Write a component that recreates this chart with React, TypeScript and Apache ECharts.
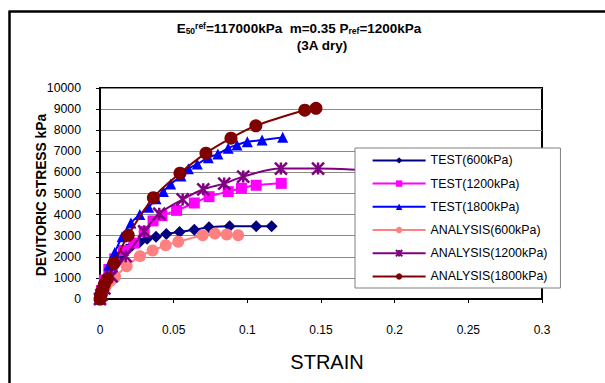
import React, { useEffect, useRef } from "react";
import * as echarts from "echarts";

const xTicks = [0, 0.05, 0.1, 0.15, 0.2, 0.25, 0.3];
const yTicks = [0, 1000, 2000, 3000, 4000, 5000, 6000, 7000, 8000, 9000, 10000];

const seriesNames = [
  "TEST(600kPa)",
  "TEST(1200kPa)",
  "TEST(1800kPa)",
  "ANALYSIS(600kPa)",
  "ANALYSIS(1200kPa)",
  "ANALYSIS(1800kPa)",
];

const test600Strain = [0, 0.001, 0.002, 0.004, 0.007, 0.01, 0.014, 0.018, 0.022, 0.027, 0.032, 0.038, 0.045, 0.054, 0.064, 0.074, 0.088, 0.106, 0.1165];
const test600Stress = [0, 300, 600, 1000, 1400, 1750, 2100, 2350, 2550, 2700, 2850, 2950, 3080, 3180, 3280, 3400, 3450, 3450, 3450];

const test1200Strain = [0, 0.001, 0.003, 0.006, 0.01, 0.016, 0.023, 0.03, 0.036, 0.042, 0.052, 0.064, 0.074, 0.087, 0.096, 0.106, 0.123];
const test1200Stress = [0, 400, 900, 1400, 1900, 2300, 2650, 3200, 3700, 3950, 4200, 4550, 4850, 5090, 5250, 5390, 5480];

const test1800Strain = [0, 0.001, 0.003, 0.006, 0.01, 0.015, 0.021, 0.027, 0.033, 0.038, 0.043, 0.048, 0.055, 0.06, 0.066, 0.0735, 0.08, 0.087, 0.093, 0.1, 0.11, 0.124];
const test1800Stress = [0, 500, 1000, 1600, 2200, 2950, 3600, 4000, 4350, 4750, 5100, 5450, 5830, 6170, 6400, 6700, 6870, 7150, 7300, 7450, 7530, 7660];

const ana600Strain = [0, 0.001, 0.002, 0.004, 0.007, 0.0102, 0.0181, 0.0271, 0.0357, 0.0446, 0.0531, 0.0697, 0.078, 0.086, 0.0938];
const ana600Stress = [0, 150, 300, 600, 850, 1050, 1550, 2030, 2300, 2550, 2710, 3020, 3100, 3060, 3020];

const ana1200Strain = [0, 0.001, 0.003, 0.0079, 0.0174, 0.03, 0.0402, 0.0561, 0.0701, 0.0843, 0.0972, 0.1228, 0.148, 0.2];
const ana1200Stress = [0, 200, 500, 1070, 2030, 3210, 4040, 4720, 5200, 5470, 5800, 6180, 6180, 6000];

const ana1800Strain = [0, 0.0005, 0.001, 0.002, 0.003, 0.005, 0.0095, 0.0192, 0.0362, 0.0543, 0.0719, 0.0889, 0.1058, 0.139, 0.1466];
const ana1800Stress = [0, 150, 300, 500, 700, 950, 1710, 3020, 4800, 5960, 6910, 7620, 8210, 8950, 9035];

const colors = ["#000080", "#FF00FF", "#0000FF", "#FF8080", "#800080", "#800000"];
const symbols = ["diamond", "rect", "triangle", "circle", "path://M0,0L10,10M10,0L0,10M5,0L5,10", "circle"];
const symbolSizes = [12, 11, 11, 12, 12, 13];

const strains = [test600Strain, test1200Strain, test1800Strain, ana600Strain, ana1200Strain, ana1800Strain];
const stresses = [test600Stress, test1200Stress, test1800Stress, ana600Stress, ana1200Stress, ana1800Stress];

const FONT = "Arial, 'Liberation Sans', sans-serif";

export default function App() {
  const ref = useRef<HTMLDivElement>(null);
  useEffect(() => {
    if (!ref.current) return;
    const chart = echarts.init(ref.current, undefined, { renderer: "svg" });
    const series = seriesNames.map((name, i) => ({
      name,
      type: "line",
      smooth: 0.35,
      data: strains[i].map((s, j) => [s, stresses[i][j]]),
      symbol: symbols[i],
      symbolSize: symbolSizes[i],
      showAllSymbol: true,
      lineStyle: { color: colors[i], width: 2 },
      itemStyle:
        i === 4
          ? { color: colors[i], borderColor: colors[i], borderWidth: 2.5 }
          : { color: colors[i] },
      z: 2 + i,
    }));
    chart.setOption({
      animation: false,
      backgroundColor: "#fff",
      textStyle: { fontFamily: FONT },
      grid: {
        left: 100,
        right: 63,
        top: 88,
        bottom: 84,
        show: true,
        borderColor: "#000",
        borderWidth: 2,
        backgroundColor: "transparent",
      },
      xAxis: {
        type: "value",
        min: xTicks[0],
        max: xTicks[xTicks.length - 1],
        interval: 0.05,
        axisLine: { show: true, lineStyle: { color: "#000", width: 2 } },
        axisTick: { show: true, length: 4, lineStyle: { color: "#000", width: 1 } },
        splitLine: { show: false },
        axisLabel: {
          color: "#000",
          fontSize: 12,
          margin: 25,
          fontFamily: FONT,
          formatter: (v: number) => String(Math.round(v * 100) / 100),
        },
      },
      yAxis: {
        type: "value",
        min: yTicks[0],
        max: yTicks[yTicks.length - 1],
        interval: 1000,
        axisLine: { show: true, lineStyle: { color: "#000", width: 2 } },
        axisTick: { show: true, length: 4, lineStyle: { color: "#000", width: 1 } },
        splitLine: { show: true, lineStyle: { color: "#8a8a8a", width: 1 } },
        axisLabel: {
          color: "#000",
          fontSize: 12.3,
          margin: 19,
          fontFamily: FONT,
          formatter: (v: number) => String(Math.round(v)),
        },
      },
      legend: {
        orient: "vertical",
        left: 355,
        top: 148,
        data: seriesNames,
        backgroundColor: "#fff",
        borderColor: "#808080",
        borderWidth: 1,
        borderRadius: 0,
        padding: [5.4, 13, 4.6, 16.6],
        itemWidth: 53,
        itemHeight: 8,
        itemGap: 9.2,
        textStyle: { color: "#000", fontSize: 12.4, lineHeight: 14, fontFamily: FONT },
        z: 10,
      },
      graphic: [
        {
          type: "line",
          shape: { x1: 9.5, y1: 11.5, x2: 9.5, y2: 383 },
          style: { stroke: "#000", lineWidth: 2.5 },
        },
        {
          type: "line",
          shape: { x1: 8.5, y1: 11.5, x2: 605, y2: 11.5 },
          style: { stroke: "#000", lineWidth: 2.5 },
        },
        {
          type: "text",
          x: 299,
          y: 28,
          style: {
            text: "{b|E}{sub|50}{sup|ref}{b|=117000kPa  m=0.35 P}{sub|ref}{b|=1200kPa}",
            textAlign: "center",
            textVerticalAlign: "middle",
            rich: {
              b: { fontSize: 13.5, fontWeight: "bold", fontFamily: FONT, lineHeight: 14, verticalAlign: "middle", fill: "#000" },
              sub: { fontSize: 8.5, fontWeight: "bold", fontFamily: FONT, lineHeight: 9, verticalAlign: "bottom", fill: "#000" },
              sup: { fontSize: 8.5, fontWeight: "bold", fontFamily: FONT, lineHeight: 9, verticalAlign: "top", fill: "#000" },
            },
          },
        },
        {
          type: "text",
          x: 322,
          y: 45,
          style: {
            text: "(3A dry)",
            textAlign: "center",
            textVerticalAlign: "middle",
            font: `bold 13.5px ${FONT}`,
            fill: "#000",
          },
        },
        {
          type: "text",
          x: 41,
          y: 195,
          rotation: Math.PI / 2,
          style: {
            text: "DEVITORIC STRESS kPa",
            textAlign: "center",
            textVerticalAlign: "middle",
            font: `bold 13.8px ${FONT}`,
            fill: "#000",
          },
        },
        {
          type: "text",
          x: 327,
          y: 362,
          style: {
            text: "STRAIN",
            textAlign: "center",
            textVerticalAlign: "middle",
            font: `20px ${FONT}`,
            fill: "#000",
          },
        },
      ],
      series,
    });
    return () => chart.dispose();
  }, []);
  return <div ref={ref} style={{ width: 605, height: 383, position: "absolute", left: 0, top: 0 }} />;
}
